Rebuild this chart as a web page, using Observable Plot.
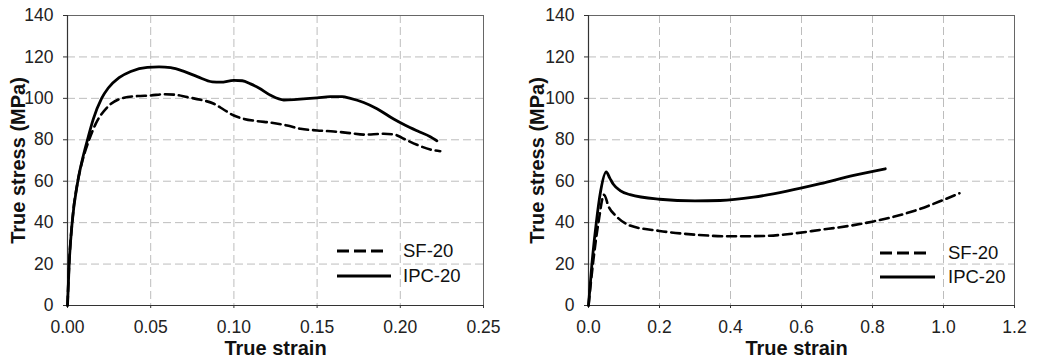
<!DOCTYPE html>
<html><head><meta charset="utf-8">
<script src="https://cdn.jsdelivr.net/npm/d3@7"></script>
<script src="https://cdn.jsdelivr.net/npm/@observablehq/plot@0.6"></script>
<style>
body{margin:0;background:#fff;font-family:"Liberation Sans",Arial,sans-serif;}
#wrap{display:flex;width:1037px;height:364px;position:relative;}
.panel{position:relative;}
.legend{position:absolute;left:0;top:0;pointer-events:none;}
</style></head><body><div id="wrap"></div>
<script>
const seriesNames = ["SF-20", "IPC-20"];
const yTicks = [0, 20, 40, 60, 80, 100, 120, 140];
const leftXTicks = [0, 0.05, 0.10, 0.15, 0.20, 0.25];
const rightXTicks = [0, 0.2, 0.4, 0.6, 0.8, 1.0, 1.2];

// [true strain, true stress (MPa)]
const leftSF = [[0,0],[0.001,20],[0.0028,40],[0.0062,60],[0.009,70],[0.013,80],[0.017,87.8],[0.024,95.8],[0.034,100.3],[0.042,101.1],[0.05,101.4],[0.058,102],[0.064,101.8],[0.072,100.6],[0.08,99.3],[0.088,97.4],[0.094,94.5],[0.1,91.7],[0.106,90.1],[0.114,89],[0.122,88.3],[0.132,86.9],[0.14,85.3],[0.15,84.5],[0.16,84],[0.17,83.2],[0.178,82.5],[0.19,82.9],[0.197,82.4],[0.202,80.5],[0.21,77.6],[0.218,75.3],[0.224,74.5]];
const leftIPC = [[0,0],[0.001,20],[0.0028,40],[0.0062,60],[0.0088,70],[0.012,80],[0.0155,90],[0.0205,100],[0.0245,105],[0.031,110],[0.038,113],[0.048,115],[0.055,115.2],[0.062,114.8],[0.07,113],[0.078,110.5],[0.087,108],[0.092,107.8],[0.1,108.7],[0.105,108.5],[0.11,107],[0.115,105],[0.122,101.5],[0.13,99.2],[0.138,99.5],[0.15,100.2],[0.158,100.8],[0.165,100.8],[0.17,100],[0.178,98],[0.186,95],[0.196,90],[0.203,87],[0.211,84],[0.218,81.5],[0.222,79.5]];
const rightSF = [[0,0],[0.0124,20],[0.028,40],[0.044,53.5],[0.056,48],[0.08,42.8],[0.117,38.6],[0.2,36],[0.3,34.2],[0.4,33.4],[0.5,33.6],[0.56,34.4],[0.653,36.5],[0.747,38.8],[0.803,40.6],[0.87,43.3],[0.935,46.7],[0.99,50.3],[1.045,54.2]];
const rightIPC = [[0,0],[0.0096,20],[0.022,40],[0.034,55],[0.05,64.5],[0.06,61.5],[0.07,58.5],[0.089,55.5],[0.117,53.5],[0.2,51.3],[0.3,50.5],[0.371,50.7],[0.465,52.3],[0.559,55.2],[0.653,58.8],[0.747,62.8],[0.836,66]];

const FONT = "Liberation Sans, Arial, sans-serif";

function panel({width, marginLeft, marginRight, xTicks, xFormat, sf, ipc, xLabelDx, yLabelDx, legend}) {
  const data = [
    ...sf.map(([x, y]) => ({x, y, s: seriesNames[0]})),
    ...ipc.map(([x, y]) => ({x, y, s: seriesNames[1]}))
  ];
  const chart = Plot.plot({
    width, height: 364, marginLeft, marginRight, marginTop: 15, marginBottom: 59,
    style: {fontFamily: FONT, fontSize: "17.5px", color: "#222", background: "#fff", overflow: "visible"},
    x: {domain: [xTicks[0], xTicks[xTicks.length - 1]]},
    y: {domain: [0, 140]},
    marks: [
      Plot.gridX(xTicks.filter(d => d > 0), {stroke: "#bdbdbd", strokeOpacity: 1, strokeDasharray: "8,4"}),
      Plot.gridY(yTicks.filter(d => d > 0), {stroke: "#bdbdbd", strokeOpacity: 1, strokeDasharray: "8,4"}),
      Plot.frame({stroke: "#666"}),
      Plot.axisX(xTicks, {tickFormat: xFormat, tickSize: 3, tickPadding: 12, label: null, fontSize: 17.5, stroke: "#333"}),
      Plot.axisY(yTicks, {tickSize: 4, tickPadding: 10, label: null, fontSize: 17.5, stroke: "#333"}),
      Plot.ruleX([xTicks[0]], {stroke: "#333", strokeWidth: 1.2}),
      Plot.ruleY([0], {stroke: "#333", strokeWidth: 1.2}),
      Plot.line(data.filter(d => d.s === seriesNames[0]), {x: "x", y: "y", stroke: "#000", strokeWidth: 2.6, strokeDasharray: "9,5", curve: "monotone-x"}),
      Plot.line(data.filter(d => d.s === seriesNames[1]), {x: "x", y: "y", stroke: "#000", strokeWidth: 2.8, curve: "monotone-x"}),
      Plot.text(["True strain"], {frameAnchor: "bottom", textAnchor: "middle", lineAnchor: "middle", dy: 43, dx: xLabelDx, fontWeight: "bold", fontSize: 20, fill: "#111"}),
      Plot.text(["True stress (MPa)"], {frameAnchor: "left", textAnchor: "middle", lineAnchor: "middle", rotate: -90, dx: yLabelDx, fontWeight: "bold", fontSize: 20, fill: "#111"})
    ]
  });
  const div = document.createElement("div");
  div.className = "panel";
  div.style.width = width + "px";
  div.appendChild(chart);
  // legend overlay
  const ns = "http://www.w3.org/2000/svg";
  const svg = document.createElementNS(ns, "svg");
  svg.setAttribute("class", "legend");
  svg.setAttribute("width", width);
  svg.setAttribute("height", 364);
  const items = [
    {name: seriesNames[0], dash: "12,5", x2: legend.dashEnd, y: legend.y1},
    {name: seriesNames[1], dash: null, x2: legend.solidEnd, y: legend.y2}
  ];
  for (const it of items) {
    const l = document.createElementNS(ns, "line");
    l.setAttribute("x1", legend.x); l.setAttribute("x2", it.x2);
    l.setAttribute("y1", it.y); l.setAttribute("y2", it.y);
    l.setAttribute("stroke", "#000"); l.setAttribute("stroke-width", 3);
    if (it.dash) l.setAttribute("stroke-dasharray", it.dash);
    svg.appendChild(l);
    const t = document.createElementNS(ns, "text");
    t.setAttribute("x", legend.tx); t.setAttribute("y", it.y);
    t.setAttribute("dy", "0.35em");
    t.setAttribute("font-family", FONT); t.setAttribute("font-size", 18.5);
    t.setAttribute("fill", "#111");
    t.textContent = it.name;
    svg.appendChild(t);
  }
  div.appendChild(svg);
  return div;
}

const wrap = document.getElementById("wrap");
wrap.appendChild(panel({
  width: 520, marginLeft: 67, marginRight: 37, xTicks: leftXTicks, xFormat: d3.format(".2f"),
  sf: leftSF, ipc: leftIPC, xLabelDx: 0, yLabelDx: -49,
  legend: {x: 337, dashEnd: 385, solidEnd: 391, y1: 251, y2: 276, tx: 403}
}));
wrap.appendChild(panel({
  width: 517, marginLeft: 68, marginRight: 23, xTicks: rightXTicks, xFormat: d3.format(".1f"),
  sf: rightSF, ipc: rightIPC, xLabelDx: -5, yLabelDx: -51,
  legend: {x: 360, dashEnd: 408, solidEnd: 415, y1: 253, y2: 277, tx: 428}
}));
</script></body></html>
